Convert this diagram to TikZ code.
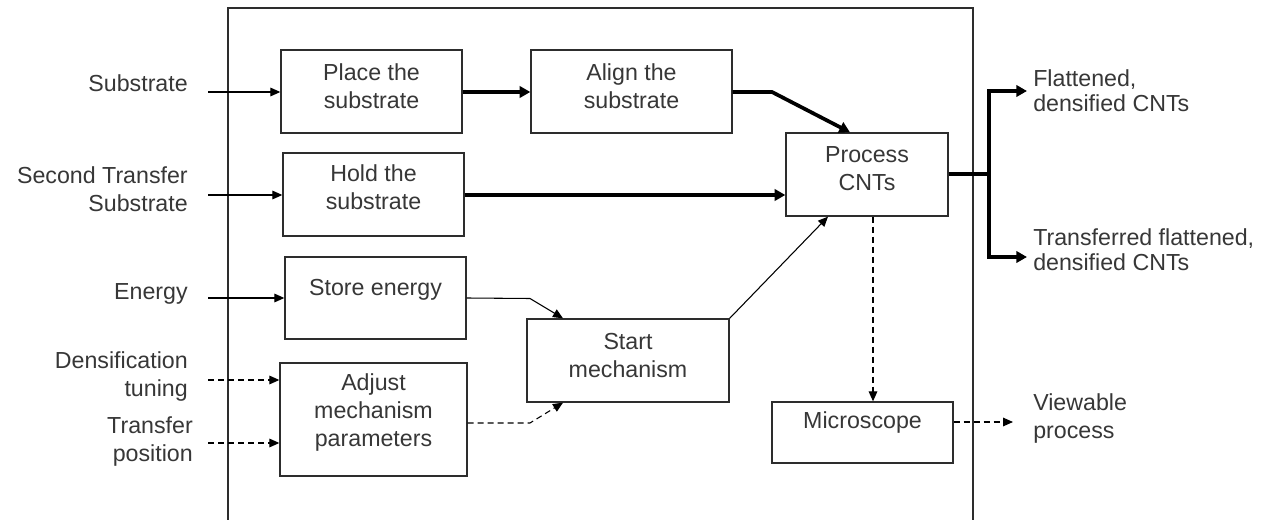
\documentclass[tikz,border=0pt]{standalone}
\usepackage{fontspec}
\setmainfont{Liberation Sans}
\usetikzlibrary{arrows.meta}
\definecolor{tx}{RGB}{55,55,55}
\definecolor{ln}{RGB}{45,45,45}
\begin{document}
\begin{tikzpicture}[x=0.75pt,y=-0.75pt,
  font=\fontsize{17.4}{21}\selectfont,
  box/.style={draw=ln, line width=1pt, rectangle, inner sep=0pt, fill=white},
  lbl/.style={text=tx, align=center, inner sep=0pt},
  inlbl/.style={text=tx, align=right, inner sep=0pt, anchor=east},
  outlbl/.style={text=tx, align=left, inner sep=0pt, anchor=west},
  frame/.style={draw=ln, line width=0.9pt},
  thinarr/.style={draw=black, line width=0.8pt, -{Triangle[length=7.5pt,width=6.5pt]}},
  dasharr/.style={thinarr, dash pattern=on 4.5pt off 3pt},
  thickarr/.style={draw=black, line width=2.8pt, line join=miter, -{Triangle[length=8pt,width=8.5pt]}},
  thickln/.style={draw=black, line width=2.8pt},
]
\useasboundingbox (0,0) rectangle (1282,520);
\fill[white] (0,0) rectangle (1282,520);

% outer frame
\draw[frame] (228,530) -- (228,8) -- (973,8) -- (973,530);

% boxes
\node[box, minimum width=135.75pt, minimum height=62.25pt,
  label={[lbl,name=placeT,yshift=4.1pt]center:{Place the\\substrate}}] (place) at (371.5,91.5) {};
\node[box, minimum width=150.75pt, minimum height=62.25pt,
  label={[lbl,name=alignT,yshift=4.1pt]center:{Align the\\substrate}}] (align) at (631.5,91.5) {};
\node[box, minimum width=135.75pt, minimum height=62.25pt,
  label={[lbl,name=holdT,yshift=5.25pt]center:{Hold the\\substrate}}] (hold) at (373.5,194.5) {};
\node[box, minimum width=135.75pt, minimum height=61.5pt,
  label={[lbl,name=storeT,yshift=6.5pt]center:{Store energy}}] (store) at (375.5,298) {};
\node[box, minimum width=140.25pt, minimum height=84.75pt,
  label={[lbl,name=adjustT,yshift=5.6pt]center:{Adjust\\mechanism\\parameters}}] (adjust) at (373.5,419.5) {};
\node[box, minimum width=151.5pt, minimum height=62.25pt,
  label={[lbl,name=startT,yshift=4.1pt]center:{Start\\mechanism}}] (start) at (628,360.5) {};
\node[box, minimum width=121.5pt, minimum height=62.25pt,
  label={[lbl,name=processT,yshift=4.5pt]center:{Process\\CNTs}}] (process) at (867,174.5) {};
\node[box, minimum width=135.75pt, minimum height=45.75pt,
  label={[lbl,name=microT,yshift=7.6pt]center:{Microscope}}] (micro) at (862.5,432.5) {};

% input labels
\node[inlbl] (inSub) at (188,83) {Substrate};
\node[inlbl] (inSecond) at (188,189) {Second Transfer\\Substrate};
\node[inlbl] (inEnergy) at (188,294) {Energy};
\node[inlbl] (inDens) at (188,376.5) {Densification\\tuning};
\node[inlbl] (inTrans) at (193,442) {Transfer\\position};

% output labels
\node[outlbl] (outFlat) at (1033,90.5) {Flattened,\\[-2.25pt]densified CNTs};
\node[outlbl] (outTrans) at (1033,249.5) {Transferred flattened,\\[-2.25pt]densified CNTs};
\node[outlbl] (outView) at (1033,419) {Viewable\\process};

% free ends
\coordinate (s1) at (208,92);
\coordinate (s2) at (208,195);
\coordinate (s3) at (208,298);
\coordinate (s4) at (208,380);
\coordinate (s5) at (208,443);
\coordinate (j) at (989,174);
\coordinate (o1) at (1027,91);
\coordinate (o2) at (1027,257);
\coordinate (v1) at (1013,422);

% input arrows
\draw[thinarr] (s1) -- (s1 -| place.west);
\draw[thinarr] (s2) -- (s2 -| hold.west);
\draw[thinarr] (s3) -- (s3 -| store.west);
\draw[dasharr] (s4) -- (s4 -| adjust.west);
\draw[dasharr] (s5) -- (s5 -| adjust.west);

% thick flow
\draw[thickarr] (place.east |- 0,92) -- (align.west |- 0,92);
\draw[thickarr] (align.east |- 0,92) -- (772,92) -- (process.north -| 850,0);
\draw[thickarr] (hold.east |- 0,195) -- (process.west |- 0,195);
\draw[thickln] (process.east |- j) -- (j);
\draw[thickarr] (j) |- (o1);
\draw[thickarr] (j) |- (o2);

% thin flow
\draw[thinarr] (store.east |- 0,298) -- (530,298.5) -- (start.north -| 563,0);
\draw[dasharr] (adjust.east |- 0,423) -- (530,423) -- (start.south -| 563,0);
\draw[thinarr] (start.north east) -- (process.south -| 828,0);
\draw[dasharr] (process.south -| 873,0) -- (micro.north -| 873,0);
\draw[dasharr] (micro.east |- v1) -- (v1);
\end{tikzpicture}
\end{document}
